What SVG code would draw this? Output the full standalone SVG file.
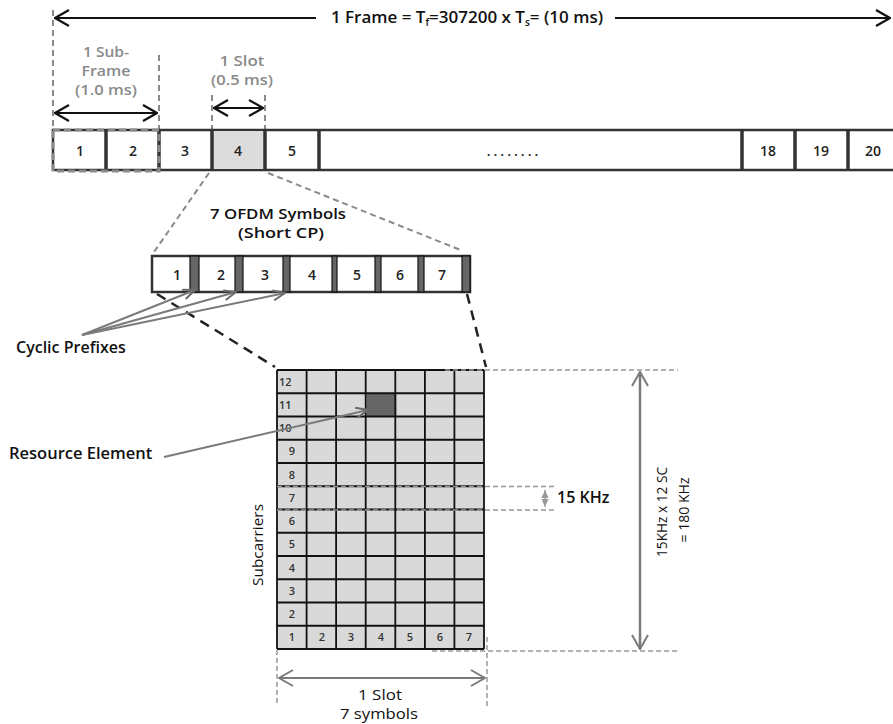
<svg xmlns="http://www.w3.org/2000/svg" width="893" height="724" viewBox="0 0 893 724">
<style>
.t{font-family:"Open Sans","Liberation Sans",sans-serif;font-weight:600;fill:#111}
.r{font-family:"Open Sans","Liberation Sans",sans-serif;font-weight:400;fill:#111}
.g{font-family:"Open Sans","Liberation Sans",sans-serif;font-weight:600;fill:#8a8a8a;font-size:13.5px}
.n{font-family:"Open Sans","Liberation Sans",sans-serif;font-weight:600;fill:#222;font-size:14px}
.s{font-family:"Open Sans","Liberation Sans",sans-serif;font-weight:600;fill:#333;font-size:11px}
.gd{stroke:#8a8a8a;stroke-width:2;stroke-dasharray:6 4;fill:none}
.ld{stroke:#999;stroke-width:1.5;stroke-dasharray:5 3;fill:none}
.bd{stroke:#222;stroke-width:2.5;stroke-dasharray:10 7;fill:none}
.ar{stroke:#111;stroke-width:2;fill:none}
.ga{stroke:#7a7a7a;stroke-width:2;fill:none}
.box{fill:#fff;stroke:#333;stroke-width:2.5}
.div{stroke:#333;stroke-width:3.5}
.cp{fill:#666;stroke:#111;stroke-width:1.2}
.grid{stroke:#111;stroke-width:1.8}
</style>
<defs>
<marker id="ab" viewBox="0 0 16 18" refX="15" refY="9" markerWidth="16" markerHeight="18" markerUnits="userSpaceOnUse" orient="auto-start-reverse">
<path d="M1,1 L15,9 L1,17" fill="none" stroke="#111" stroke-width="2.2"/>
</marker>
<marker id="ag" viewBox="0 0 16 18" refX="15" refY="9" markerWidth="16" markerHeight="18" markerUnits="userSpaceOnUse" orient="auto-start-reverse">
<path d="M1,1 L15,9 L1,17" fill="none" stroke="#7a7a7a" stroke-width="2"/>
</marker>
<marker id="as" viewBox="0 0 14 12" refX="13" refY="6" markerWidth="14" markerHeight="12" markerUnits="userSpaceOnUse" orient="auto">
<path d="M1,1 L13,6 L1,11" fill="none" stroke="#6a6a6a" stroke-width="2"/>
</marker>
<marker id="at" viewBox="0 0 10 10" refX="9" refY="5" markerWidth="9" markerHeight="9" markerUnits="userSpaceOnUse" orient="auto-start-reverse">
<path d="M0,1 L9,5 L0,9 Z" fill="#999"/>
</marker>
</defs>

<g id="frame-label">
<line class="ar" x1="55" y1="18" x2="316" y2="18" marker-start="url(#ab)"/>
<line class="ar" x1="615" y1="18" x2="890" y2="18" marker-end="url(#ab)"/>
<text class="t" x="467" y="23" font-size="17" text-anchor="middle">1 Frame = T<tspan font-size="10" dy="3">f</tspan><tspan dy="-3">=307200 x T</tspan><tspan font-size="10" dy="3">s</tspan><tspan dy="-3">= (10 ms)</tspan></text>
</g>

<g id="subframe-label">
<line class="gd" x1="53" y1="10" x2="53" y2="130"/>
<line class="gd" x1="159" y1="55" x2="159" y2="130"/>
<line class="ar" x1="55" y1="113" x2="157" y2="113" marker-start="url(#ab)" marker-end="url(#ab)"/>
<text class="g" x="106" y="57" text-anchor="middle" textLength="46" lengthAdjust="spacingAndGlyphs">1 Sub-</text>
<text class="g" x="106" y="76" text-anchor="middle" textLength="49" lengthAdjust="spacingAndGlyphs">Frame</text>
<text class="g" x="106" y="95" text-anchor="middle" textLength="62" lengthAdjust="spacingAndGlyphs">(1.0 ms)</text>
</g>

<g id="slot-label">
<line class="gd" x1="212" y1="95" x2="212" y2="130"/>
<line class="gd" x1="265" y1="95" x2="265" y2="130"/>
<line class="ar" x1="214" y1="108" x2="263" y2="108" marker-start="url(#ab)" marker-end="url(#ab)"/>
<text class="g" x="242" y="66" text-anchor="middle" textLength="45" lengthAdjust="spacingAndGlyphs">1 Slot</text>
<text class="g" x="242" y="85" text-anchor="middle" textLength="62" lengthAdjust="spacingAndGlyphs">(0.5 ms)</text>
</g>

<g id="frame-bar">
<rect class="box" x="53" y="130" width="860" height="40"/>
<rect x="212" y="131" width="53" height="38" fill="#dcdcdc"/>
<line class="div" x1="106" y1="130" x2="106" y2="170"/>
<line class="div" x1="159" y1="130" x2="159" y2="170"/>
<line class="div" x1="212" y1="130" x2="212" y2="170"/>
<line class="div" x1="265" y1="130" x2="265" y2="170"/>
<line class="div" x1="319" y1="130" x2="319" y2="170"/>
<line class="div" x1="742" y1="130" x2="742" y2="170"/>
<line class="div" x1="795" y1="130" x2="795" y2="170"/>
<line class="div" x1="848" y1="130" x2="848" y2="170"/>
<rect x="53" y="130" width="106" height="41" fill="none" stroke="#8a8a8a" stroke-width="3" stroke-dasharray="7 4"/>
<text class="n" x="80" y="156" text-anchor="middle">1</text>
<text class="n" x="133" y="156" text-anchor="middle">2</text>
<text class="n" x="185" y="156" text-anchor="middle">3</text>
<text class="n" x="238" y="156" text-anchor="middle">4</text>
<text class="n" x="292" y="156" text-anchor="middle">5</text>
<text class="n" x="514" y="156" text-anchor="middle" letter-spacing="3">........</text>
<text class="n" x="768" y="156" text-anchor="middle">18</text>
<text class="n" x="821" y="156" text-anchor="middle">19</text>
<text class="n" x="873" y="156" text-anchor="middle">20</text>
</g>

<g id="ofdm-label">
<text class="t" x="278" y="219" font-size="14" text-anchor="middle" textLength="136" lengthAdjust="spacingAndGlyphs">7 OFDM Symbols</text>
<text class="t" x="281" y="238" font-size="14" text-anchor="middle" textLength="86" lengthAdjust="spacingAndGlyphs">(Short CP)</text>
</g>

<g id="ofdm-bar">
<rect class="box" x="152" y="256" width="318" height="36" stroke-width="2"/>
<rect class="cp" x="190" y="256" width="9" height="36"/>
<rect class="cp" x="235" y="256" width="8" height="36"/>
<rect class="cp" x="283" y="256" width="7" height="36"/>
<rect class="cp" x="332" y="256" width="5" height="36"/>
<rect class="cp" x="375" y="256" width="6" height="36"/>
<rect class="cp" x="418" y="256" width="6" height="36"/>
<rect class="cp" x="462" y="256" width="8" height="36"/>
<text class="n" x="177" y="280" text-anchor="middle">1</text>
<text class="n" x="221" y="280" text-anchor="middle">2</text>
<text class="n" x="265" y="280" text-anchor="middle">3</text>
<text class="n" x="312" y="280" text-anchor="middle">4</text>
<text class="n" x="357" y="280" text-anchor="middle">5</text>
<text class="n" x="400" y="280" text-anchor="middle">6</text>
<text class="n" x="442" y="280" text-anchor="middle">7</text>
</g>

<g id="cyclic-prefixes">
<text class="t" x="16" y="353" font-size="16">Cyclic Prefixes</text>
</g>

<g id="resource-element">
<text class="t" x="9" y="459" font-size="16.5">Resource Element</text>
</g>

<g id="grid">
<rect x="277" y="370" width="207" height="279" fill="#d9d9d9"/>
<rect x="366.7" y="393.3" width="29.6" height="23.3" fill="#666"/>
<g class="grid">
<line x1="277" y1="370" x2="277" y2="649"/>
<line x1="306.6" y1="370" x2="306.6" y2="649"/>
<line x1="336.1" y1="370" x2="336.1" y2="649"/>
<line x1="365.7" y1="370" x2="365.7" y2="649"/>
<line x1="395.3" y1="370" x2="395.3" y2="649"/>
<line x1="424.9" y1="370" x2="424.9" y2="649"/>
<line x1="454.4" y1="370" x2="454.4" y2="649"/>
<line x1="484" y1="370" x2="484" y2="649"/>
<line x1="277" y1="370" x2="484" y2="370"/>
<line x1="277" y1="393.25" x2="484" y2="393.25"/>
<line x1="277" y1="416.5" x2="484" y2="416.5"/>
<line x1="277" y1="439.75" x2="484" y2="439.75"/>
<line x1="277" y1="463" x2="484" y2="463"/>
<line x1="277" y1="486.25" x2="484" y2="486.25"/>
<line x1="277" y1="509.5" x2="484" y2="509.5"/>
<line x1="277" y1="532.75" x2="484" y2="532.75"/>
<line x1="277" y1="556" x2="484" y2="556"/>
<line x1="277" y1="579.25" x2="484" y2="579.25"/>
<line x1="277" y1="602.5" x2="484" y2="602.5"/>
<line x1="277" y1="625.75" x2="484" y2="625.75"/>
<line x1="277" y1="649" x2="484" y2="649"/>
</g>
<text class="s" x="279" y="386">12</text>
<text class="s" x="279" y="409">11</text>
<text class="s" x="279" y="432">10</text>
<text class="s" x="292" y="455" text-anchor="middle">9</text>
<text class="s" x="292" y="479" text-anchor="middle">8</text>
<text class="s" x="292" y="502" text-anchor="middle">7</text>
<text class="s" x="292" y="525" text-anchor="middle">6</text>
<text class="s" x="292" y="548" text-anchor="middle">5</text>
<text class="s" x="292" y="572" text-anchor="middle">4</text>
<text class="s" x="292" y="595" text-anchor="middle">3</text>
<text class="s" x="292" y="618" text-anchor="middle">2</text>
<text class="s" x="292" y="641" text-anchor="middle">1</text>
<text class="s" x="322" y="641" text-anchor="middle">2</text>
<text class="s" x="351" y="641" text-anchor="middle">3</text>
<text class="s" x="381" y="641" text-anchor="middle">4</text>
<text class="s" x="410" y="641" text-anchor="middle">5</text>
<text class="s" x="440" y="641" text-anchor="middle">6</text>
<text class="s" x="469" y="641" text-anchor="middle">7</text>
</g>

<g id="subcarriers-label">
<text class="r" font-size="15" text-anchor="middle" transform="translate(263,545) rotate(-90)" textLength="82" lengthAdjust="spacingAndGlyphs">Subcarriers</text>
</g>

<g id="bandwidth-dim">
<line class="ld" x1="445" y1="370" x2="678" y2="370"/>
<line class="ld" x1="432" y1="651" x2="678" y2="651"/>
<line x1="640" y1="372" x2="640" y2="649" stroke="#7a7a7a" stroke-width="2.5" marker-start="url(#ag)" marker-end="url(#ag)"/>
<text class="r" font-size="15" text-anchor="middle" transform="translate(667,512) rotate(-90)" textLength="90" lengthAdjust="spacingAndGlyphs">15KHz x 12 SC</text>
<text class="r" font-size="15" text-anchor="middle" transform="translate(689,510) rotate(-90)" textLength="65" lengthAdjust="spacingAndGlyphs">= 180 KHz</text>
</g>

<g id="spacing-dim">
<line class="ld" x1="277" y1="486.5" x2="557" y2="486.5"/>
<line class="ld" x1="277" y1="510" x2="557" y2="510"/>
<line x1="545" y1="490" x2="545" y2="507" stroke="#999" stroke-width="1.5" stroke-dasharray="2 2" marker-start="url(#at)" marker-end="url(#at)"/>
<text class="t" x="557" y="503" font-size="16">15 KHz</text>
</g>

<g id="slot-dim">
<line class="ld" x1="277" y1="650" x2="277" y2="706"/>
<line class="ld" x1="487" y1="637" x2="487" y2="706"/>
<line class="ga" x1="279" y1="678" x2="485" y2="678" marker-start="url(#ag)" marker-end="url(#ag)"/>
<text class="r" x="380" y="700" font-size="14.5" text-anchor="middle" textLength="44" lengthAdjust="spacingAndGlyphs">1 Slot</text>
<text class="r" x="379" y="719" font-size="14.5" text-anchor="middle" textLength="78" lengthAdjust="spacingAndGlyphs">7 symbols</text>
</g>

<g id="connectors">
<line class="gd" x1="209" y1="173" x2="154" y2="252"/>
<line class="gd" x1="268" y1="173" x2="463" y2="251"/>
<line class="bd" x1="157" y1="294" x2="275" y2="367"/>
<line class="bd" x1="467" y1="294" x2="486" y2="367"/>
<line class="ga" x1="82" y1="335" x2="195" y2="290" marker-end="url(#as)"/>
<line class="ga" x1="82" y1="335" x2="236" y2="292" marker-end="url(#as)"/>
<line class="ga" x1="82" y1="335" x2="285" y2="293" marker-end="url(#as)"/>
<line class="ga" x1="164" y1="457" x2="368" y2="410" marker-end="url(#as)"/>
</g>
</svg>
